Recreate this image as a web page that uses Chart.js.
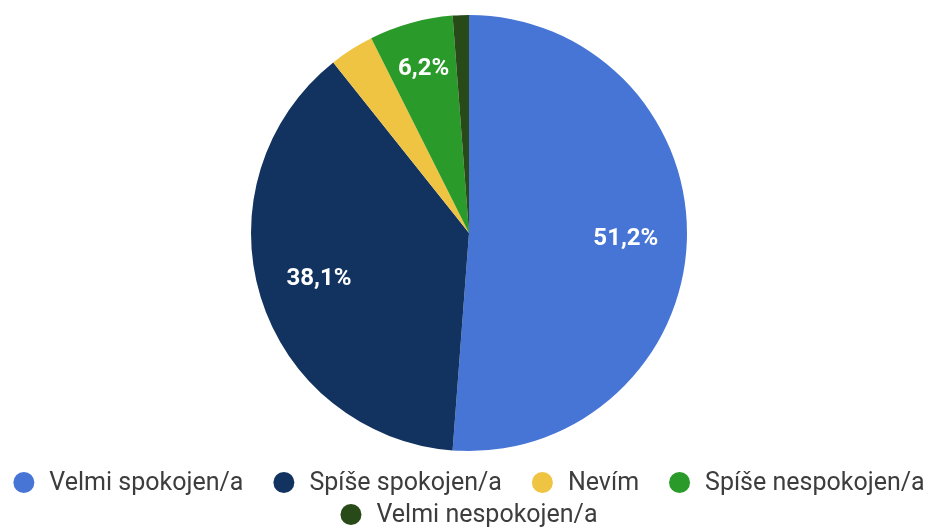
<!DOCTYPE html>
<html>
<head>
<meta charset="utf-8">
<script src="https://cdn.jsdelivr.net/npm/chart.js@4/dist/chart.umd.min.js"></script>
<style>
html,body{margin:0;padding:0;background:#fff;}
#wrap{width:929px;height:527px;position:relative;}
</style>
</head>
<body>
<div id="wrap"><canvas id="c"></canvas></div>
<script>
const categories = ["Velmi spokojen/a", "Spíše spokojen/a", "Nevím", "Spíše nespokojen/a", "Velmi nespokojen/a"];
const values = [51.2, 38.1, 3.3, 6.2, 1.2];
const labelTexts = ["51,2%", "38,1%", "", "6,2%", ""];
const colors = ["#4775d6", "#12335f", "#efc443", "#2a9b2a", "#284a18"];

const sliceLabels = {
  id: 'sliceLabels',
  afterDatasetsDraw(chart) {
    const ctx = chart.ctx;
    const meta = chart.getDatasetMeta(0);
    ctx.save();
    ctx.fillStyle = '#ffffff';
    ctx.font = 'bold 24px Roboto';
    ctx.textAlign = 'center';
    ctx.textBaseline = 'middle';
    meta.data.forEach((arc, i) => {
      const t = labelTexts[i];
      if (!t) return;
      const p = arc.getProps(['x','y','startAngle','endAngle','outerRadius'], true);
      const mid = (p.startAngle + p.endAngle) / 2;
      const f = (p.endAngle - p.startAngle) < 0.6 ? 0.78 : 0.72;
      const r = p.outerRadius * f;
      ctx.fillText(t, p.x + Math.cos(mid) * r, p.y + Math.sin(mid) * r);
    });
    ctx.restore();
  }
};

const customLegend = {
  id: 'customLegend',
  afterDraw(chart) {
    const ctx = chart.ctx;
    const labels = chart.data.labels;
    const bg = chart.data.datasets[0].backgroundColor;
    const R = 10.5, textGap = 15, itemGap = 30, lineH = 32;
    const maxW = chart.width - 4;
    const cx = 469, y0 = 482.5;
    ctx.save();
    ctx.font = '25px Roboto';
    const items = labels.map((t, i) => ({t, c: bg[i], w: 2 * R + textGap + ctx.measureText(t).width}));
    const rows = [];
    let cur = [], curW = 0;
    items.forEach(it => {
      const add = cur.length ? itemGap + it.w : it.w;
      if (cur.length && curW + add > maxW) { rows.push({items: cur, w: curW}); cur = [it]; curW = it.w; }
      else { cur.push(it); curW += add; }
    });
    if (cur.length) rows.push({items: cur, w: curW});
    ctx.textBaseline = 'middle';
    ctx.textAlign = 'left';
    rows.forEach((row, r) => {
      let x = cx - row.w / 2;
      const y = y0 + r * lineH;
      row.items.forEach(it => {
        ctx.fillStyle = it.c;
        ctx.beginPath();
        ctx.arc(x + R, y, R, 0, Math.PI * 2);
        ctx.fill();
        ctx.fillStyle = '#3d3d3d';
        ctx.fillText(it.t, x + 2 * R + textGap, y + 1);
        x += it.w + itemGap;
      });
    });
    ctx.restore();
  }
};

new Chart(document.getElementById('c'), {
  type: 'pie',
  data: {
    labels: categories,
    datasets: [{
      data: values,
      backgroundColor: colors,
      borderWidth: 0
    }]
  },
  options: {
    responsive: true,
    maintainAspectRatio: false,
    animation: false,
    layout: { padding: { top: 15, bottom: 76, left: 9, right: 0 } },
    plugins: {
      tooltip: { enabled: false },
      legend: { display: false }
    }
  },
  plugins: [sliceLabels, customLegend]
});
</script>
</body>
</html>
